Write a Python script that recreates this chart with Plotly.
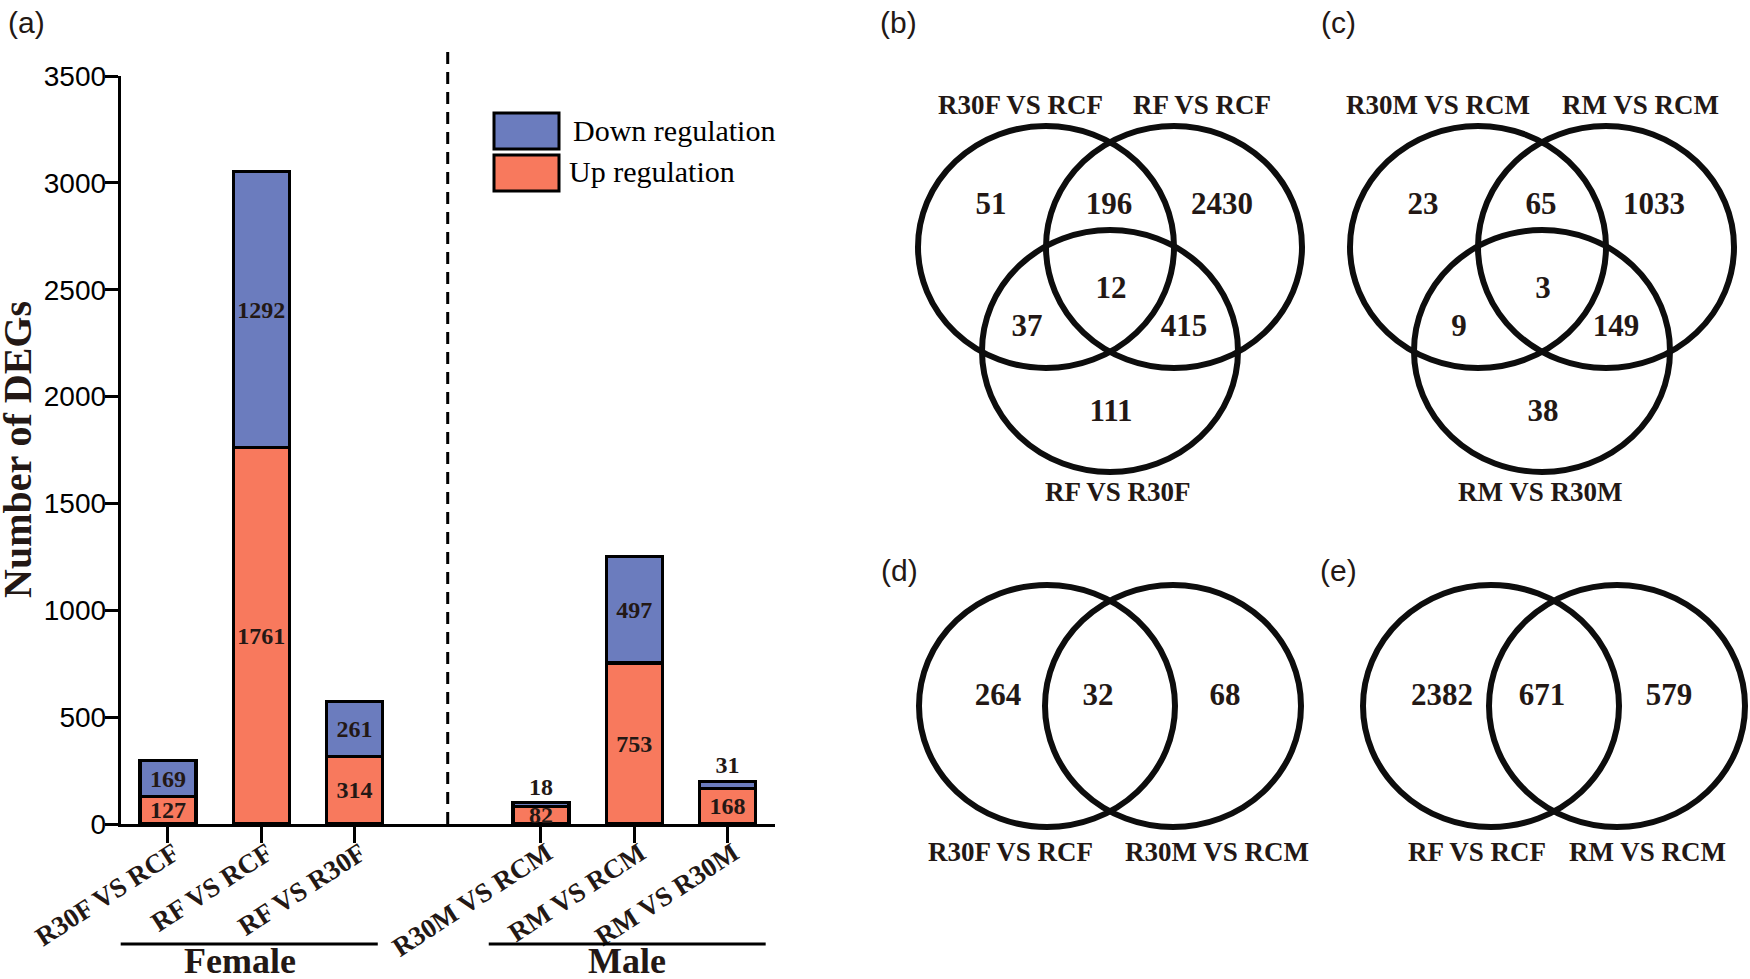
import plotly.graph_objects as go

# ---------------- data ----------------
female_cats = ["R30F VS RCF", "RF VS RCF", "RF VS R30F"]
male_cats = ["R30M VS RCM", "RM VS RCM", "RM VS R30M"]
up_counts = [127, 1761, 314, 82, 753, 168]
down_counts = [169, 1292, 261, 18, 497, 31]
group_names = ["Female", "Male"]
series_names = ["Down regulation", "Up regulation"]

# Venn region order (3 sets): A only, A&B, B only, A&B&C, A&C, B&C, C only
venn_b_sets = ["R30F VS RCF", "RF VS RCF", "RF VS R30F"]
venn_b_counts = [51, 196, 2430, 12, 37, 415, 111]
venn_c_sets = ["R30M VS RCM", "RM VS RCM", "RM VS R30M"]
venn_c_counts = [23, 65, 1033, 3, 9, 149, 38]
# Venn region order (2 sets): A only, A&B, B only
venn_d_sets = ["R30F VS RCF", "R30M VS RCM"]
venn_d_counts = [264, 32, 68]
venn_e_sets = ["RF VS RCF", "RM VS RCM"]
venn_e_counts = [2382, 671, 579]
panel_tags = ["(a)", "(b)", "(c)", "(d)", "(e)"]

# ---------------- style / layout ----------------
W, H = 1750, 979
UP_C = "#F8795D"
DOWN_C = "#6B7CBE"
INK = "#231815"
SERIF = "Liberation Serif"
SANS = "Liberation Sans"


def px(x):
    return x / W


def py(y):
    return 1 - y / H


n_f = len(female_cats)
positions = list(range(n_f)) + [n_f + 1 + i for i in range(len(male_cats))]
gap_pos = n_f
cats = female_cats + male_cats

fig = go.Figure()

bar_font = dict(family=SERIF, size=24, color=INK, weight="bold")
fig.add_trace(go.Bar(
    x=positions, y=up_counts, name=series_names[1], width=0.6,
    marker=dict(color=UP_C, line=dict(color="black", width=3.2)),
    text=up_counts, texttemplate="%{text}", textposition="inside",
    insidetextanchor="middle", textangle=0, textfont=bar_font,
    cliponaxis=False, hoverinfo="skip", showlegend=False,
))
fig.add_trace(go.Bar(
    x=positions, y=down_counts, name=series_names[0], width=0.6,
    marker=dict(color=DOWN_C, line=dict(color="black", width=3.2)),
    text=down_counts, texttemplate="%{text}",
    textposition=["outside" if v < 50 else "inside" for v in down_counts],
    insidetextanchor="middle", textangle=0, textfont=bar_font,
    cliponaxis=False, hoverinfo="skip", showlegend=False,
))

shapes = []
annotations = []

# dashed separator between groups
shapes.append(dict(type="line", xref="x", yref="paper", x0=gap_pos, x1=gap_pos,
                   y0=py(824), y1=py(50),
                   line=dict(color="black", width=3, dash="12px,8px")))

# group brackets + names
groups = [(positions[0] - 0.71, positions[n_f - 1] + 0.25),
          (positions[n_f] - 0.56, positions[-1] + 0.41)]
for (g0, g1), gname in zip(groups, group_names):
    shapes.append(dict(type="line", xref="x", yref="paper", x0=g0, x1=g1,
                       y0=py(944), y1=py(944), line=dict(color="black", width=3)))
    annotations.append(dict(text=gname, xref="x", yref="paper", x=(g0 + g1) / 2,
                            y=py(961), showarrow=False, xanchor="center", yanchor="middle",
                            font=dict(family=SERIF, size=36, color=INK, weight="bold")))

# legend (custom large swatches)
leg_items = [(series_names[0], DOWN_C, 113, 149, 571, 130),
             (series_names[1], UP_C, 155, 191, 567, 172)]
for name, col, y0, y1, tx, ty in leg_items:
    shapes.append(dict(type="rect", xref="paper", yref="paper", x0=px(494), x1=px(559),
                       y0=py(y1), y1=py(y0), fillcolor=col,
                       line=dict(color="black", width=3)))
    annotations.append(dict(text=name, xref="paper", yref="paper", x=px(tx), y=py(ty),
                            showarrow=False, xanchor="left", yanchor="middle",
                            font=dict(family=SERIF, size=30, color="black")))

# y-axis title
annotations.append(dict(text="Number of DEGs", xref="paper", yref="paper", x=px(17), y=py(450),
                        showarrow=False, textangle=-90, xanchor="center", yanchor="middle",
                        font=dict(family=SERIF, size=40, color=INK, weight="bold")))

# panel tags
tag_pos = [(26, 23), (899, 23), (1338, 23), (900, 570), (1338, 570)]
for tag, (tx, ty) in zip(panel_tags, tag_pos):
    annotations.append(dict(text=tag, xref="paper", yref="paper", x=px(tx), y=py(ty),
                            showarrow=False, xanchor="center", yanchor="middle",
                            font=dict(family=SANS, size=30, color=INK)))

# ---------------- Venn diagrams (pixel-space overlay axis x2/y2) ----------------
RX, RY = 128, 121
tri_centers = [(0, 0), (128, 0), (64, 104)]
tri_regions = [(-55, -41), (63, -41), (176, -41), (65, 43), (-19, 81), (138, 81), (65, 166)]
duo_centers = [(0, 0), (126, 0)]
duo_regions = [(-49, -9), (51, -9), (178, -9)]

venns = [
    dict(origin=(1046, 247), centers=tri_centers, regions=tri_regions,
         sets=venn_b_sets, counts=venn_b_counts,
         labels=[(-26, -142), (156, -142), (72, 245)]),
    dict(origin=(1478, 247), centers=tri_centers, regions=tri_regions,
         sets=venn_c_sets, counts=venn_c_counts,
         labels=[(-40, -142), (162, -142), (62, 245)]),
    dict(origin=(1047, 706), centers=duo_centers, regions=duo_regions,
         sets=venn_d_sets, counts=venn_d_counts,
         labels=[(-37, 146), (170, 146)]),
    dict(origin=(1491, 706), centers=duo_centers, regions=duo_regions,
         sets=venn_e_sets, counts=venn_e_counts,
         labels=[(-14, 146), (156, 146)]),
]

for v in venns:
    ox, oy = v["origin"]
    for cx, cy in v["centers"]:
        shapes.append(dict(type="circle", xref="x2", yref="y2",
                           x0=ox + cx - RX, x1=ox + cx + RX,
                           y0=oy + cy - RY, y1=oy + cy + RY,
                           line=dict(color="#0d0d0d", width=6)))
    fig.add_trace(go.Scatter(
        x=[ox + dx for dx, dy in v["regions"]], y=[oy + dy for dx, dy in v["regions"]],
        mode="text", text=[str(c) for c in v["counts"]], textposition="middle center",
        textfont=dict(family=SERIF, size=31, color=INK, weight="bold"),
        xaxis="x2", yaxis="y2", hoverinfo="skip", showlegend=False, cliponaxis=False,
    ))
    for name, (lx, ly) in zip(v["sets"], v["labels"]):
        annotations.append(dict(text=name, xref="x2", yref="y2", x=ox + lx, y=oy + ly,
                                showarrow=False, xanchor="center", yanchor="middle",
                                font=dict(family=SERIF, size=27, color=INK, weight="bold")))

fig.update_layout(
    width=W, height=H, margin=dict(l=0, r=0, t=0, b=0, autoexpand=False),
    paper_bgcolor="white", plot_bgcolor="rgba(0,0,0,0)",
    barmode="stack", showlegend=False,
    xaxis=dict(domain=[px(120.7), px(775)], range=[-0.507, 6.51],
               tickvals=positions, ticktext=cats, tickangle=-33,
               showline=True, linecolor="black", linewidth=3,
               ticks="outside", ticklen=16, tickwidth=3, tickcolor="black",
               ticklabelstandoff=-16, ticklabelshift=6,
               showgrid=False, zeroline=False, automargin=False,
               tickfont=dict(family=SERIF, size=27, color=INK, weight="bold"),
               anchor="y"),
    yaxis=dict(domain=[py(824), py(76)], range=[0, 3500], tick0=0, dtick=500,
               showline=True, linecolor="black", linewidth=3,
               ticks="outside", ticklen=13, tickwidth=3, tickcolor="black",
               ticklabelstandoff=-7,
               showgrid=False, zeroline=False, automargin=False,
               tickfont=dict(family=SANS, size=28, color="black"),
               anchor="x"),
    xaxis2=dict(domain=[0, 1], range=[0, W], visible=False, anchor="y2", automargin=False),
    yaxis2=dict(domain=[0, 1], range=[H, 0], visible=False, anchor="x2", automargin=False),
    shapes=shapes, annotations=annotations,
    uniformtext=dict(minsize=24, mode="show"),
)

fig.write_html("out.html", config={"displayModeBar": False},
               post_script="document.body.style.margin='0px';document.body.style.overflow='hidden';")
